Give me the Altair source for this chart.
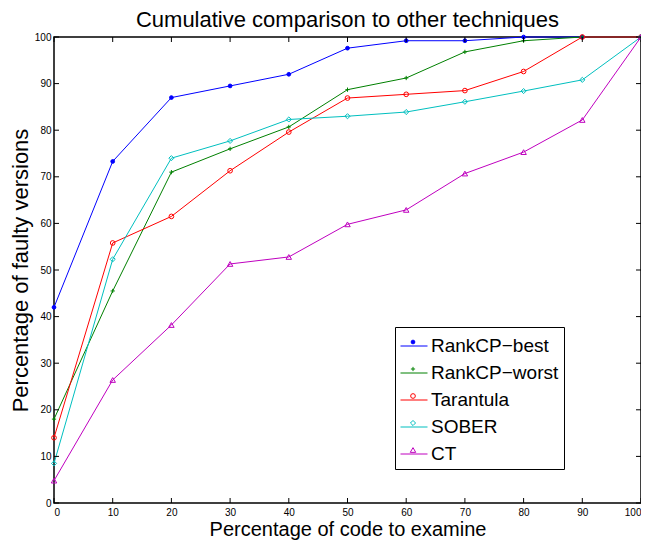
import altair as alt
import pandas as pd

x_vals = [0, 10, 20, 30, 40, 50, 60, 70, 80, 90, 100]
series_names = ["RankCP\u2212best", "RankCP\u2212worst", "Tarantula", "SOBER", "CT"]
rankcp_best = [42.0, 73.3, 87.0, 89.5, 92.0, 97.6, 99.2, 99.2, 100, 100, 100]
rankcp_worst = [18.0, 45.5, 71.0, 76.0, 80.7, 88.7, 91.2, 96.8, 99.2, 100, 100]
tarantula = [14.0, 55.8, 61.5, 71.3, 79.6, 86.9, 87.7, 88.5, 92.6, 100, 100]
sober = [8.5, 52.3, 74.0, 77.7, 82.3, 83.0, 83.9, 86.1, 88.4, 90.8, 100]
ct = [4.8, 26.4, 38.2, 51.3, 52.8, 59.8, 62.9, 70.7, 75.3, 82.2, 100]
colors = ["#0000FF", "#008000", "#FF0000", "#00BFBF", "#BF00BF"]
fills = ["#0000FF", "transparent", "transparent", "transparent", "transparent"]
shapes = ["circle", "M-1,0L1,0M0,-1L0,1", "circle", "diamond", "triangle-up"]
sizes = [14, 30, 30, 30, 30]
tick_vals = [0, 10, 20, 30, 40, 50, 60, 70, 80, 90, 100]

rows = []
for k, (name, vals) in enumerate(zip(series_names, [rankcp_best, rankcp_worst, tarantula, sober, ct])):
    for xv, yv in zip(x_vals, vals):
        rows.append({"x": xv, "y": yv, "series": name, "order": k})
df = pd.DataFrame(rows)
ticks = pd.DataFrame({"t": tick_vals})

W, H = 587, 466
FONT = "Liberation Sans"

xs = alt.Scale(domain=[0, 100], nice=False, zero=False)
ys = alt.Scale(domain=[0, 100], nice=False, zero=False)

xaxis = alt.Axis(values=tick_vals, ticks=False, domain=False, grid=False, labelFontSize=10,
                 labelPadding=4, title="Percentage of code to examine", titleFontSize=20,
                 titleFontWeight="normal", titlePadding=2, labelColor="black", titleColor="black")
yaxis = alt.Axis(values=tick_vals, ticks=False, domain=False, grid=False, labelFontSize=10,
                 labelPadding=3, title="Percentage of faulty versions", titleFontSize=22,
                 titleFontWeight="normal", titlePadding=2, labelColor="black", titleColor="black")

color_scale = alt.Scale(domain=series_names, range=colors)

LX, LY = 341, 290
line_legend = alt.Legend(orient="none", legendX=LX, legendY=LY, title=None, labelFontSize=19,
                         labelFont=FONT, strokeColor="black", fillColor="white", padding=5,
                         rowPadding=3, symbolType="stroke", symbolSize=729, symbolStrokeWidth=1,
                         labelColor="black", cornerRadius=0, labelLimit=300, labelOffset=3)

pt_legend = alt.Legend(orient="none", legendX=LX, legendY=LY, title=None, labelFontSize=20,
                       padding=5, rowPadding=7, symbolStrokeWidth=1, symbolOffset=3,
                       labelExpr="''", cornerRadius=0, labelOffset=0)

lines = alt.Chart(df).mark_line(strokeWidth=1).encode(
    x=alt.X("x:Q", scale=xs, axis=xaxis),
    y=alt.Y("y:Q", scale=ys, axis=yaxis),
    color=alt.Color("series:N", scale=color_scale, legend=line_legend),
    detail="series:N",
)

points = alt.Chart(df).mark_point(filled=False, strokeWidth=1, opacity=1).encode(
    x="x:Q",
    y="y:Q",
    color=alt.Color("series:N", scale=color_scale, legend=pt_legend, title="s2"),
    shape=alt.Shape("series:N", scale=alt.Scale(domain=series_names, range=shapes), legend=pt_legend, title="s2"),
    fill=alt.Fill("series:N", scale=alt.Scale(domain=series_names, range=fills), legend=pt_legend, title="s2"),
    size=alt.Size("series:N", scale=alt.Scale(domain=series_names, range=sizes), legend=pt_legend, title="s2"),
    order="order:Q",
)

tb = alt.Chart(ticks).mark_rule(color="black", strokeWidth=1).encode(
    x="t:Q", y=alt.value(H), y2=alt.value(H - 5))
tt = alt.Chart(ticks).mark_rule(color="black", strokeWidth=1).encode(
    x="t:Q", y=alt.value(0), y2=alt.value(5))
tl = alt.Chart(ticks).mark_rule(color="black", strokeWidth=1).encode(
    y="t:Q", x=alt.value(0), x2=alt.value(5))
tr = alt.Chart(ticks).mark_rule(color="black", strokeWidth=1).encode(
    y="t:Q", x=alt.value(W), x2=alt.value(W - 5))

chart = alt.layer(lines, points, tb, tt, tl, tr).resolve_legend(
    color="independent", shape="independent", fill="independent", size="independent"
).properties(
    width=W, height=H,
    autosize=alt.AutoSizeParams(type="none"),
    padding={"left": 46, "top": 29, "right": 0, "bottom": 37},
    title=alt.TitleParams("Cumulative comparison to other techniques", fontSize=22,
                          fontWeight="normal", font=FONT, color="black", offset=0),
).configure(font=FONT).configure_view(stroke="black", strokeWidth=1.5)

chart.save("out.html", embed_options={"renderer": "svg", "actions": False})
